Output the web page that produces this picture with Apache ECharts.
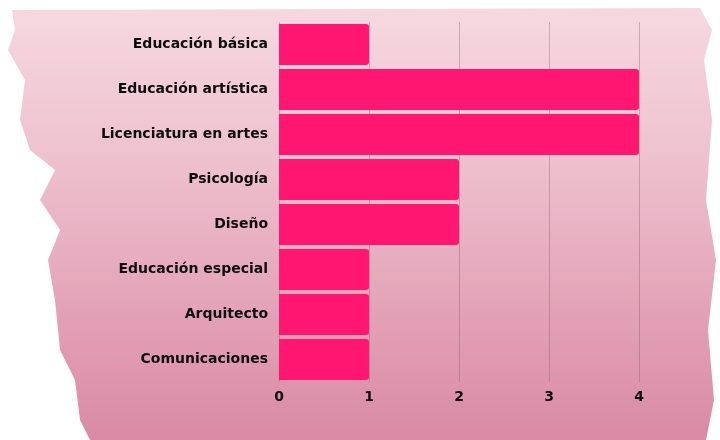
<!DOCTYPE html>
<html>
<head>
<meta charset="utf-8">
<script src="https://cdn.jsdelivr.net/npm/echarts@6/dist/echarts.min.js"></script>
<style>
html,body{margin:0;padding:0;background:#fff;}
#chart{width:720px;height:440px;}
</style>
</head>
<body>
<div id="chart"></div>
<script>
var categories = ['Educación básica','Educación artística','Licenciatura en artes','Psicología','Diseño','Educación especial','Arquitecto','Comunicaciones'];
var values = [1,4,4,2,2,1,1,1];
var xTicks = [0,1,2,3,4];

var chart = echarts.init(document.getElementById('chart'));

var bgPoly = [[12,10],[700,8],[712,30],[704,60],[712,120],[706,200],[716,260],[708,330],[714,400],[706,440],
  [90,440],[80,420],[75,380],[60,350],[55,300],[48,260],[60,230],[40,200],[55,170],[30,150],[20,120],[25,80],[8,50],[15,30]];

var labelFont = {color:'#0d0d0d', fontFamily:'DejaVu Sans', fontWeight:'bold', fontSize:14};

var option = {
  backgroundColor: 'transparent',
  graphic: [
    {type:'polygon', z:-20, silent:true, shape:{points:bgPoly},
     style:{fill:new echarts.graphic.LinearGradient(0,0,0,1,[
       {offset:0,color:'#f6d8e1'},{offset:0.35,color:'#eec1cf'},{offset:0.7,color:'#e3a2b7'},{offset:1,color:'#d98aa4'}])}}
  ],
  grid: {left:279, right:81, top:22, bottom:58, containLabel:false},
  xAxis: {
    type:'value', min:0, max:4, interval:1,
    axisLine:{show:false}, axisTick:{show:false},
    splitLine:{show:true, lineStyle:{color:'rgba(120,90,100,0.35)', width:1}},
    axisLabel:Object.assign({margin:8,
      formatter:function(v){return xTicks.indexOf(v)>=0?String(v):'';}}, labelFont)
  },
  yAxis: {
    type:'category', data:categories, inverse:true,
    axisLine:{show:false}, axisTick:{show:false},
    axisLabel:Object.assign({margin:11}, labelFont)
  },
  series: [{
    type:'bar', data:values, barCategoryGap:'9%',
    itemStyle:{color:'#ff1670', borderRadius:[0,3,3,0]}
  }]
};
chart.setOption(option);
</script>
</body>
</html>
